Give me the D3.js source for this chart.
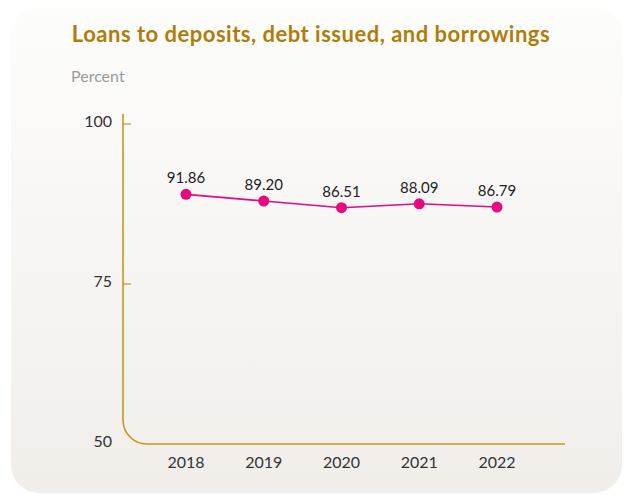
<!DOCTYPE html>
<html>
<head>
<meta charset="utf-8">
<script src="https://cdn.jsdelivr.net/npm/d3@7"></script>
<style>
  html, body { margin: 0; padding: 0; background: #ffffff; }
  #chart { width: 625px; height: 495px; }
  text { font-family: Lato, "Open Sans", sans-serif; }
</style>
</head>
<body>
<div id="chart"></div>
<script>
var years = ["2018", "2019", "2020", "2021", "2022"];
var values = [91.86, 89.20, 86.51, 88.09, 86.79];
var yTicks = [50, 75, 100];

var width = 625, height = 495;

var svg = d3.select("#chart")
    .append("svg")
    .attr("width", width)
    .attr("height", height);

// card background
var defs = svg.append("defs");
var grad = defs.append("linearGradient")
    .attr("id", "bg")
    .attr("x1", 0).attr("y1", 0).attr("x2", 0).attr("y2", 1);
grad.append("stop").attr("offset", "0%").attr("stop-color", "#fdfdfc");
grad.append("stop").attr("offset", "100%").attr("stop-color", "#f1eeea");

svg.append("rect")
    .attr("x", 11).attr("y", 7)
    .attr("width", 611).attr("height", 486)
    .attr("rx", 28).attr("ry", 28)
    .attr("fill", "url(#bg)");

// title
svg.append("text")
    .attr("x", 311).attr("y", 42)
    .attr("text-anchor", "middle")
    .style("font-size", "22px")
    .style("font-weight", "bold")
    .style("letter-spacing", "0.5px")
    .style("fill", "#b07c0c")
    .text("Loans to deposits, debt issued, and borrowings");

svg.append("text")
    .attr("x", 71).attr("y", 82)
    .style("font-size", "16px")
    .style("fill", "#9a9a9a")
    .text("Percent");

// scales
var x = d3.scalePoint().domain(years).range([186, 497]);
var y = d3.scaleLinear().domain([50, 100]).range([444, 124]);
// the series is plotted on its own 0-100 scale in the original
var yLine = d3.scaleLinear().domain([0, 100]).range([424, 174]);

var axisColor = "#c29a1f";

// y axis with rounded corner into x axis
var x0 = 123, yTop = 114, yBase = y(50), r = 24, xEnd = 565;
svg.append("path")
    .attr("d", "M" + x0 + "," + yTop + "V" + (yBase - r) +
        "A" + r + "," + r + " 0 0 0 " + (x0 + r) + "," + yBase + "H" + xEnd)
    .attr("fill", "none")
    .attr("stroke", axisColor)
    .attr("stroke-width", 1.6);

svg.selectAll(".ytick")
    .data(yTicks.filter(function(d){ return d > 50; }))
    .enter().append("line")
    .attr("x1", x0).attr("x2", x0 + 8)
    .attr("y1", function(d){ return y(d); })
    .attr("y2", function(d){ return y(d); })
    .attr("stroke", axisColor)
    .attr("stroke-width", 1.2);

svg.selectAll(".ylabel")
    .data(yTicks)
    .enter().append("text")
    .attr("x", 112)
    .attr("y", function(d){ return y(d) - 3; })
    .attr("dy", "0.35em")
    .attr("text-anchor", "end")
    .style("font-size", "16px")
    .style("fill", "#333")
    .text(function(d){ return d; });

svg.selectAll(".xlabel")
    .data(years)
    .enter().append("text")
    .attr("x", function(d){ return x(d); })
    .attr("y", 468)
    .attr("text-anchor", "middle")
    .style("font-size", "16px")
    .style("fill", "#333")
    .text(function(d){ return d; });

// line
var line = d3.line()
    .x(function(d, i){ return x(years[i]); })
    .y(function(d){ return yLine(d); });

svg.append("path")
    .attr("d", line(values))
    .attr("fill", "none")
    .attr("stroke", "#e6097f")
    .attr("stroke-width", 1.6);

svg.selectAll(".dot")
    .data(values)
    .enter().append("circle")
    .attr("cx", function(d, i){ return x(years[i]); })
    .attr("cy", function(d){ return yLine(d); })
    .attr("r", 5.5)
    .attr("fill", "#e6097f");

svg.selectAll(".vlabel")
    .data(values)
    .enter().append("text")
    .attr("x", function(d, i){ return x(years[i]); })
    .attr("y", function(d){ return yLine(d) - 11; })
    .attr("text-anchor", "middle")
    .style("font-size", "15px")
    .style("fill", "#222")
    .text(function(d){ return d.toFixed(2); });
</script>
</body>
</html>
